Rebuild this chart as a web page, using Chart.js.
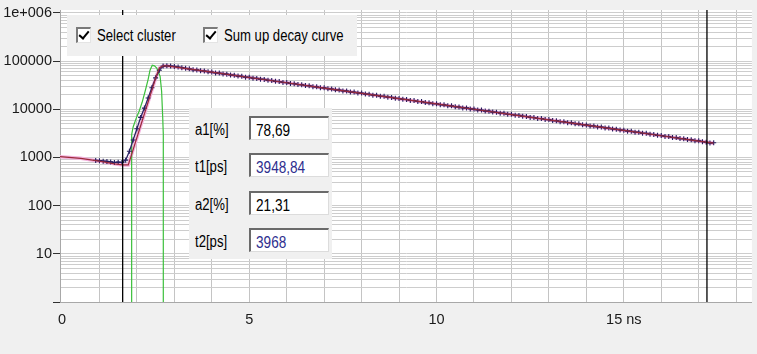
<!DOCTYPE html>
<html>
<head>
<meta charset="utf-8">
<script src="https://cdn.jsdelivr.net/npm/chart.js@4.4.1/dist/chart.umd.min.js"></script>
<style>
  html, body { margin: 0; padding: 0; background: #f0f0f0; }
  #wrap { position: relative; width: 757px; height: 354px; overflow: hidden;
          font-family: 'Liberation Sans Narrow', 'Liberation Sans', Arial, sans-serif; color: #000; }
  canvas { position: absolute; left: 0; top: 0; }
  .panel { position: absolute; background: #f0f0f0; }
  .txt { position: absolute; font-size: 16px; line-height: 16px; white-space: nowrap;
         transform: scaleX(0.82); transform-origin: 0 0; }
  .cb { position: absolute; width: 12px; height: 13px; background: #fff;
        border-top: 2px solid #7a7a7a; border-left: 2px solid #7a7a7a;
        border-right: 1px solid #e4e4e4; border-bottom: 1px solid #e4e4e4; }
  .cb::after { content: ''; position: absolute; left: 3px; top: 0px; width: 4px; height: 8px;
               border-right: 2.5px solid #000; border-bottom: 2.5px solid #000; transform: rotate(40deg); }
  .box { position: absolute; width: 77px; height: 21px; background: #fff;
         border-top: 2px solid #6a6a6a; border-left: 2px solid #6a6a6a;
         border-right: 1px solid #dcdcdc; border-bottom: 1px solid #dcdcdc; }
  .box span { position: absolute; left: 5px; top: 5px; font-size: 16px; line-height: 16px;
              white-space: nowrap; transform: scaleX(0.85); transform-origin: 0 0; }
  .blue { color: #2e2e8e; }
</style>
</head>
<body>
<div id="wrap">
  <canvas id="chart" width="757" height="354"></canvas>

  <div class="panel" style="left:67px; top:15px; width:290px; height:41px;">
    <div class="cb" style="left:9px; top:12px;"></div>
    <div class="txt" style="left:30px; top:13px;">Select cluster</div>
    <div class="cb" style="left:136px; top:12px;"></div>
    <div class="txt" style="left:157px; top:13px;">Sum up decay curve</div>
  </div>

  <div class="panel" style="left:189px; top:108px; width:143px; height:151px;">
    <div class="txt" style="left:6px; top:14px;">a1[%]</div>
    <div class="box" style="left:60px; top:8px;"><span>78,69</span></div>
    <div class="txt" style="left:6px; top:51px;">t1[ps]</div>
    <div class="box" style="left:60px; top:45px;"><span class="blue">3948,84</span></div>
    <div class="txt" style="left:6px; top:89px;">a2[%]</div>
    <div class="box" style="left:60px; top:83px;"><span>21,31</span></div>
    <div class="txt" style="left:6px; top:126px;">t2[ps]</div>
    <div class="box" style="left:60px; top:120px;"><span class="blue">3968</span></div>
  </div>
</div>

<script>
// measured decay (ns, counts)
const decayTime = [
  0.9, 1.0, 1.1, 1.2, 1.3, 1.4, 1.5, 1.6, 1.7, 1.8, 1.9, 2.0, 2.1, 2.2, 2.3, 2.4, 2.5, 2.6, 2.7,
  2.8, 2.9, 3.0, 3.1, 3.2, 3.3, 3.4, 3.5, 3.6, 3.7, 3.8, 3.9, 4.0, 4.1, 4.2, 4.3, 4.4, 4.5, 4.6, 4.7, 4.8, 4.9,
  5.0, 5.1, 5.2, 5.3, 5.4, 5.5, 5.6, 5.7, 5.8, 5.9, 6.0, 6.1, 6.2, 6.3, 6.4, 6.5, 6.6, 6.7, 6.8, 6.9,
  7.0, 7.1, 7.2, 7.3, 7.4, 7.5, 7.6, 7.7, 7.8, 7.9, 8.0, 8.1, 8.2, 8.3, 8.4, 8.5, 8.6, 8.7, 8.8, 8.9,
  9.0, 9.1, 9.2, 9.3, 9.4, 9.5, 9.6, 9.7, 9.8, 9.9, 10.0, 10.1, 10.2, 10.3, 10.4, 10.5, 10.6, 10.7, 10.8, 10.9,
  11.0, 11.1, 11.2, 11.3, 11.4, 11.5, 11.6, 11.7, 11.8, 11.9, 12.0, 12.1, 12.2, 12.3, 12.4, 12.5, 12.6, 12.7, 12.8, 12.9,
  13.0, 13.1, 13.2, 13.3, 13.4, 13.5, 13.6, 13.7, 13.8, 13.9, 14.0, 14.1, 14.2, 14.3, 14.4, 14.5, 14.6, 14.7, 14.8, 14.9,
  15.0, 15.1, 15.2, 15.3, 15.4, 15.5, 15.6, 15.7, 15.8, 15.9, 16.0, 16.1, 16.2, 16.3, 16.4, 16.5, 16.6, 16.7, 16.8, 16.9,
  17.0, 17.1, 17.2, 17.3, 17.4
];
const decayCounts = [
  870, 860, 840, 830, 810, 790, 800, 790, 880, 1350, 2300, 3950, 6800, 10600, 17200, 28000, 45000, 65000, 79000,
  80500, 79200, 77800, 75400, 73100, 70900, 69300, 66400, 65800, 63100, 62500, 60100, 59400, 57100, 56600, 54200, 53800, 51600, 51100, 49000, 48600, 46600,
  46200, 44300, 43900, 42100, 41800, 40000, 39700, 38100, 37800, 36200, 35900, 34400, 34100, 32700, 32400, 31100, 30900, 29500, 29300, 28100,
  27900, 26700, 26500, 25400, 25200, 24100, 24000, 22900, 22800, 21800, 21700, 20700, 20600, 19700, 19600, 18700, 18600, 17800, 17700, 16900,
  16800, 16100, 16000, 15300, 15200, 14500, 14500, 13800, 13700, 13100, 13100, 12500, 12400, 11900, 11800, 11300, 11200, 10700, 10700, 10200,
  10100, 9680, 9640, 9200, 9170, 8750, 8720, 8320, 8290, 7910, 7880, 7520, 7490, 7150, 7120, 6800, 6770, 6460, 6440, 6140,
  6120, 5840, 5820, 5550, 5530, 5280, 5260, 5020, 5000, 4770, 4750, 4530, 4520, 4310, 4300, 4100, 4080, 3900, 3880, 3710,
  3690, 3520, 3510, 3350, 3340, 3180, 3170, 3030, 3010, 2880, 2860, 2740, 2720, 2600, 2590, 2470, 2460, 2350, 2340, 2230,
  2220, 2130, 2070, 2010, 2030
];

// fitted curve
const fitTime = [-0.06, 0.5, 1.0, 1.4, 1.62, 1.77, 1.9, 2.0, 2.1, 2.2, 2.3, 2.4, 2.5, 2.6, 2.7, 2.8,
  3, 4, 5, 6, 7, 8, 9, 10, 11, 12, 13, 14, 15, 16, 17, 17.4];
const fitCounts = [1040, 960, 840, 740, 700, 700, 1460, 2580, 4560, 8040, 14200, 25000, 44200, 72000, 79500, 80000,
  76050, 59040, 45840, 35590, 27630, 21450, 16650, 12930, 10035, 7790, 6050, 4696, 3646, 2830, 2197, 1986];

// instrument response (green)
const irfTime = [1.86, 1.86, 1.9, 1.98, 2.06, 2.14, 2.22, 2.3, 2.35, 2.41, 2.47, 2.53, 2.62, 2.66, 2.69, 2.705, 2.705];
const irfCounts = [0.01, 3000, 4300, 6500, 9100, 14000, 23700, 42000, 65000, 82000, 80000, 72000, 48000, 23700, 6500, 3000, 0.01];

// cursors
const cursorTimes = [1.62, 17.22];
const cursorSpan = [0.01, 1e7];

// axes
const xTickValues = [0, 1, 2, 3, 4, 5, 6, 7, 8, 9, 10, 11, 12, 13, 14, 15, 16, 17, 18];
const xTickLabels = { 0: '0', 5: '5', 10: '10', 15: '15 ns' };
const yDecades = [1, 10, 100, 1000, 10000, 100000, 1000000];
const yDecadeLabels = ['', '10', '100', '1000', '10000', '100000', '1e+006'];
const yMinorSteps = [2, 3, 4, 5, 6, 7, 8, 9];

const toPoints = (xs, ys) => xs.map((x, i) => ({ x: x, y: ys[i] }));

const yTicks = [];
yDecades.forEach((d, i) => {
  yTicks.push({ value: d });
  if (i < yDecades.length - 1) yMinorSteps.forEach((m) => yTicks.push({ value: d * m }));
});

const whiteArea = {
  id: "whiteArea",
  beforeDraw(chart) {
    const { ctx, chartArea: a } = chart;
    ctx.save();
    ctx.fillStyle = "#ffffff";
    ctx.fillRect(a.left, a.top, a.right - a.left, a.bottom - a.top);
    ctx.restore();
  },
};

const line = (data, color, width, order) => ({
  data: data, borderColor: color, borderWidth: width, pointRadius: 0, tension: 0, order: order,
});

const tickFont = { family: "'Liberation Sans', Arial", size: 14.5 };

new Chart(document.getElementById("chart"), {
  type: "line",
  data: {
    datasets: [
      line(toPoints([cursorTimes[0], cursorTimes[0]], cursorSpan), "#000000", 1.3, 0),
      line(toPoints([cursorTimes[1], cursorTimes[1]], cursorSpan), "#000000", 1.3, 0),
      line(toPoints(fitTime, fitCounts), "#9a2a3a", 1.2, 1),
      {
        data: toPoints(decayTime, decayCounts),
        borderColor: "#2d2466", borderWidth: 1.3, tension: 0, order: 2,
        pointStyle: "cross", pointRadius: 2.5, pointBorderWidth: 1.1,
        pointBorderColor: "#241d5e", pointBackgroundColor: "#241d5e",
      },
      line(toPoints(irfTime, irfCounts), "#3cc03c", 1.2, 3),
      line(toPoints(fitTime, fitCounts), "#f3b3de", 3.5, 4),
    ],
  },
  options: {
    responsive: false,
    animation: false,
    events: [],
    layout: { padding: { top: 10, right: 5, left: 0, bottom: 0 } },
    plugins: { legend: { display: false }, tooltip: { enabled: false } },
    scales: {
      x: {
        type: "linear",
        min: -0.053,
        max: 18.42,
        afterFit: (s) => { s.height = 52; },
        afterBuildTicks: (s) => { s.ticks = xTickValues.map((v) => ({ value: v })); },
        border: { color: "#a8a8a8", width: 1 },
        grid: {
          drawTicks: false,
          color: (c) => (c.tick && c.tick.value === 0 ? "rgba(0,0,0,0)" : "#c4c4c4"),
        },
        ticks: {
          autoSkip: false,
          maxRotation: 0,
          padding: 9,
          color: "#1a1a1a",
          font: tickFont,
          callback: (v) => xTickLabels[v] || "",
        },
      },
      y: {
        type: "logarithmic",
        min: 1,
        max: 1154000,
        afterFit: (s) => { s.width = 60; },
        afterBuildTicks: (s) => { s.ticks = yTicks.map((t) => ({ value: t.value })); },
        border: { color: "#a8a8a8", width: 1 },
        grid: {
          color: "#cdcdcd",
          tickLength: 7,
          tickColor: (c) => (c.tick && yDecades.includes(c.tick.value) ? "#303030" : "rgba(0,0,0,0)"),
        },
        ticks: {
          autoSkip: false,
          padding: 1,
          color: "#1a1a1a",
          font: tickFont,
          callback: (v) => {
            const i = yDecades.indexOf(v);
            return i >= 0 ? yDecadeLabels[i] : "";
          },
        },
      },
    },
  },
  plugins: [whiteArea],
});
</script>
</body>
</html>
